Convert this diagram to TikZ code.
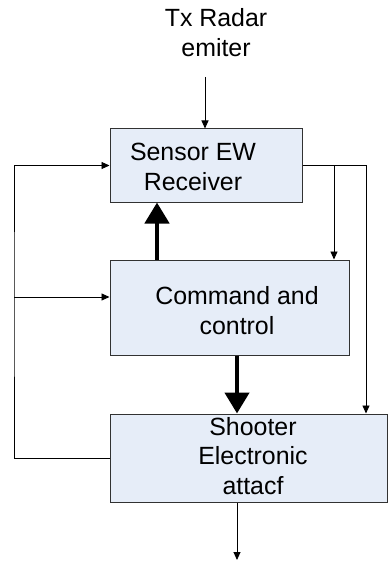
\documentclass[tikz,border=0pt]{standalone}
\usepackage{fontspec}
\setmainfont{Liberation Sans}
\usetikzlibrary{arrows.meta}
\definecolor{boxfill}{RGB}{230,237,248}
\definecolor{boxline}{RGB}{50,50,50}
\begin{document}
\begin{tikzpicture}[x=1bp,y=-1bp,
  blk/.style={draw=boxline,line width=1bp,fill=boxfill,inner sep=0pt,anchor=center},
  txt/.style={align=center,inner sep=0pt,font=\fontsize{25}{30}\selectfont,anchor=center},
  arr/.style={draw=black,line width=0.9bp,-{Triangle[length=8bp,width=7bp]}},
  ln/.style={draw=black,line width=0.9bp},
  big/.style={draw=black,line width=4.5bp,-{Triangle[length=21bp,width=24bp]}}]
\useasboundingbox (0,0) rectangle (387,561);
\node[blk,minimum width=192bp,minimum height=73bp] (sensor) at (206,165.5) {};
\node[blk,minimum width=239bp,minimum height=95bp] (command) at (229.5,307.5) {};
\node[blk,minimum width=277bp,minimum height=88bp] (shooter) at (248.5,458) {};
\node[txt] (tx) at (216,33) {Tx Radar\\emiter};
\node[txt] (sensortxt) at (193,167) {Sensor EW\\Receiver};
\node[txt] (commandtxt) at (237,311) {Command and\\control};
\node[txt] (shootertxt) at (253,456) {Shooter\\Electronic\\attacf};
\coordinate (txend) at (205,77);
\draw[arr] (txend) -- (txend |- sensor.north);
\coordinate (lx) at (14,297);
\draw[arr] (shooter.west) -| (lx) |- (sensor.west);
\draw[arr] (lx) -- (lx -| command.west);
\coordinate (rx) at (366,165.5);
\coordinate (rb) at (334,165.5);
\draw[ln] (sensor.east) -- (rx);
\draw[arr] (rx) -- (rx |- shooter.north);
\draw[arr] (rb) -- (rb |- command.north);
\coordinate (t1) at (157,0);
\coordinate (t2) at (237,0);
\draw[big] (t1 |- command.north) -- (t1 |- sensor.south);
\draw[big] (t2 |- command.south) -- (t2 |- shooter.north);
\coordinate (out) at (237,560);
\draw[arr] (t2 |- shooter.south) -- (out);
\end{tikzpicture}
\end{document}
